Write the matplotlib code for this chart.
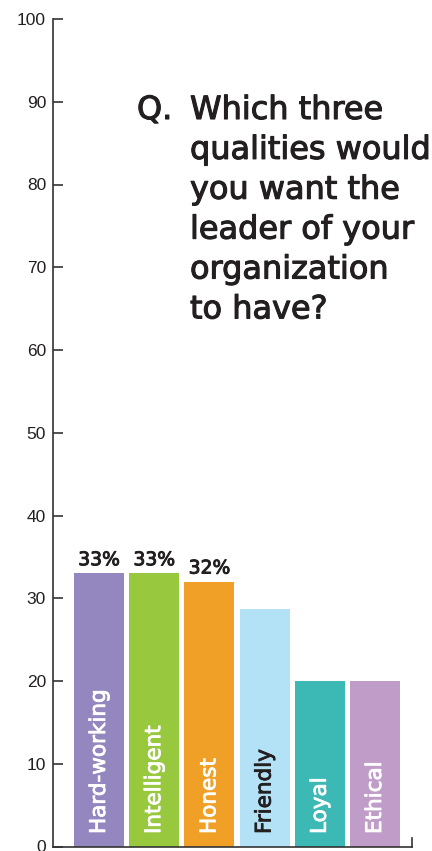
import matplotlib.pyplot as plt
import matplotlib.patheffects as pe

# survey results (percent of respondents)
qualities = ['Hard-working', 'Intelligent', 'Honest', 'Friendly', 'Loyal', 'Ethical']
shares = [33, 33, 32, 28.7, 20, 20]
value_labels = ['33%', '33%', '32%', '', '', '']
bar_colors = ['#9487c0', '#97c83d', '#f0a026', '#b3e1f6', '#3cb8b5', '#c09cc8']
label_colors = ['white', 'white', 'white', '#231f20', 'white', 'white']
y_ticks = [0, 10, 20, 30, 40, 50, 60, 70, 80, 90, 100]

axis_color = '#333333'
text_color = '#231f20'


# medium-weight look: normal glyphs with a thin outline in the same colour
def medium(color, lw=0.7):
    return [pe.withStroke(linewidth=lw, foreground=color)]


fig = plt.figure(figsize=(4.32, 8.51), dpi=100)
ax = fig.add_axes([53/432, 4.5/851, (412-53)/432, 827.5/851])

x = list(range(len(qualities)))
ax.bar(x, shares, width=0.906, color=bar_colors)

ax.set_xlim(-0.833, 5.67)
ax.set_ylim(0, 100)

# percentage labels over the top three bars
for xi, val, lab in zip(x, shares, value_labels):
    if lab:
        ax.annotate(lab, (xi, val), textcoords='offset points', xytext=(0, 3),
                    ha='center', va='bottom', fontsize=13.5,
                    color=text_color, family='DejaVu Sans',
                    path_effects=medium(text_color, 0.7))

# quality names written up the bars
for xi, name, c in zip(x, qualities, label_colors):
    ax.annotate(name, (xi, 0), textcoords='offset points', xytext=(0, 9),
                rotation=90, ha='center', va='bottom', fontsize=15.5,
                color=c, family='DejaVu Sans', path_effects=medium(c, 0.6))

ax.spines['top'].set_visible(False)
ax.spines['right'].set_bounds(0, 1)
for side in ['left', 'bottom', 'right']:
    ax.spines[side].set_color(axis_color)
    ax.spines[side].set_linewidth(1.2)

ax.set_xticks([])
ax.set_yticks(y_ticks)
ax.tick_params(axis='y', direction='in', length=7.5, width=1.2, color=axis_color,
               pad=5, labelsize=12.5, labelcolor=text_color)
for t in ax.get_yticklabels():
    t.set_family('Liberation Sans')

# question text
fig.text(137/432, 1 - 95/851, 'Q.', fontsize=23, color=text_color,
         family='DejaVu Sans', ha='left', va='top',
         path_effects=medium(text_color, 0.8))
fig.text(190/432, 1 - 95/851,
         'Which three\nqualities would\nyou want the\nleader of your\norganization\nto have?',
         fontsize=23, color=text_color, family='DejaVu Sans', ha='left', va='top',
         linespacing=1.37, path_effects=medium(text_color, 0.8))

fig.savefig('out.png', dpi=100)
